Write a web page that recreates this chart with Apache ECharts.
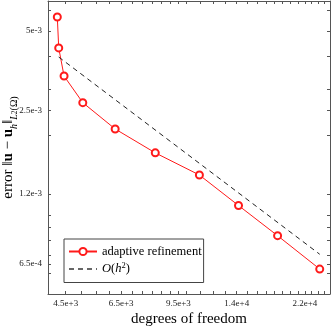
<!DOCTYPE html>
<html>
<head>
<meta charset="utf-8">
<script src="https://cdn.jsdelivr.net/npm/echarts@6/dist/echarts.min.js"></script>
<style>
    html, body { margin: 0; padding: 0; background: #fff; }
    #chart { width: 332px; height: 326px; }
</style>
</head>
<body>
<div id="chart"></div>
<script>

// Data
// ------------------------------

var dof = [4255, 4295, 4450, 5039, 6247, 8153, 10927, 14166, 18361, 24287];
var errAdaptive = [5.65e-3, 4.31e-3, 3.37e-3, 2.67e-3, 2.12e-3, 1.72e-3, 1.417e-3, 1.085e-3, 8.33e-4, 6.22e-4];

var refDof = [4295, 24287];
var refErr = [3.98e-3, 7.08e-4];

var xTickVals = [4500, 6500, 9500, 14000, 22000];
var xTickLabels = ['4.5e+3', '6.5e+3', '9.5e+3', '1.4e+4', '2.2e+4'];
var xMinorTicks = [5000, 5500, 6000, 7000, 7500, 8000, 8500, 9000, 10000, 11000, 12000, 13000,
    15000, 16000, 17000, 18000, 19000, 20000, 21000, 23000, 24000, 25000];

var yTickVals = [5e-3, 2.5e-3, 1.2e-3, 6.5e-4];
var yTickLabels = ['5e-3', '2.5e-3', '1.2e-3', '6.5e-4'];
var yMinorTicks = [6e-3, 4e-3, 3e-3, 2e-3, 1e-3, 9e-4, 8e-4, 7e-4, 6e-4];

var xRange = [4000, 26000];
var yRange = [5e-4, 6.5e-3];


// Helpers
// ------------------------------

var lg = function(v) { return Math.log10(v); };

var pickLabel = function(vals, labels) {
    return function(v) {
        for (var i = 0; i < vals.length; i++) {
            if (Math.abs(lg(vals[i]) - v) < 1e-6) return labels[i];
        }
        return '';
    };
};

var serif = 'Liberation Serif';
var axisColor = '#555';
var red = '#ff1a1a';


// Axes
// ------------------------------

var makeX = function(top) {
    return {
        type: 'value',
        position: top ? 'top' : 'bottom',
        min: lg(xRange[0]),
        max: lg(xRange[1]),
        name: top ? '' : 'degrees of freedom',
        nameLocation: 'middle',
        nameGap: 18,
        nameMoveOverlap: false,
        nameTextStyle: { fontFamily: serif, fontSize: 15, color: '#000' },
        axisLine: { show: true, lineStyle: { color: axisColor, width: 1 } },
        axisTick: {
            show: true,
            inside: true,
            length: 3,
            customValues: xTickVals.concat(xMinorTicks).map(lg),
            lineStyle: { color: axisColor }
        },
        axisLabel: {
            show: !top,
            margin: 5,
            customValues: xTickVals.map(lg),
            formatter: pickLabel(xTickVals, xTickLabels),
            fontFamily: serif,
            fontSize: 9,
            color: '#222'
        },
        splitLine: { show: false }
    };
};

var makeY = function(right) {
    return {
        type: 'value',
        position: right ? 'right' : 'left',
        min: lg(yRange[0]),
        max: lg(yRange[1]),
        name: right ? '' : '{n|error }{n|‖}{b|u}{n| − }{b|u}{s|h}{n|‖}{s|L}{ss|2}{sr|(Ω)}',
        nameLocation: 'middle',
        nameRotate: 90,
        nameGap: 29,
        nameMoveOverlap: false,
        nameTextStyle: {
            fontFamily: serif,
            fontSize: 15,
            color: '#000',
            rich: {
                n: { fontFamily: serif, fontSize: 15, lineHeight: 21 },
                b: { fontFamily: serif, fontSize: 15, fontWeight: 'bold', lineHeight: 21 },
                s: { fontFamily: serif, fontSize: 10, fontStyle: 'italic', verticalAlign: 'bottom', lineHeight: 14 },
                sr: { fontFamily: serif, fontSize: 10, verticalAlign: 'bottom', lineHeight: 14 },
                ss: { fontFamily: serif, fontSize: 7.5, verticalAlign: 'bottom', lineHeight: 20 }
            }
        },
        axisLine: { show: true, lineStyle: { color: axisColor, width: 1 } },
        axisTick: {
            show: true,
            inside: true,
            length: 3,
            customValues: yTickVals.concat(yMinorTicks).map(lg),
            lineStyle: { color: axisColor }
        },
        axisLabel: {
            show: !right,
            margin: 6,
            customValues: yTickVals.map(lg),
            formatter: pickLabel(yTickVals, yTickLabels),
            fontFamily: serif,
            fontSize: 9,
            color: '#222'
        },
        splitLine: { show: false }
    };
};


// Chart
// ------------------------------

var chart = echarts.init(document.getElementById('chart'), null, { renderer: 'canvas' });

var options = {
    animation: false,
    backgroundColor: '#fff',
    grid: { left: 48, right: 2, top: 1, bottom: 32, outerBoundsMode: 'none' },
    xAxis: [makeX(false), makeX(true)],
    yAxis: [makeY(false), makeY(true)],
    legend: {
        left: 64,
        top: 239,
        orient: 'vertical',
        backgroundColor: '#fff',
        borderColor: '#444',
        borderWidth: 1,
        borderRadius: 0,
        padding: [6, 2, 7, 4],
        itemWidth: 28,
        itemHeight: 9,
        itemGap: 3,
        textStyle: {
            fontFamily: serif,
            fontSize: 12.5,
            color: '#000',
            rich: {
                n: { fontFamily: serif, fontSize: 12.5, lineHeight: 16 },
                i: { fontFamily: serif, fontSize: 12.5, fontStyle: 'italic', lineHeight: 16 },
                sup: { fontFamily: serif, fontSize: 8.5, verticalAlign: 'top', lineHeight: 9 }
            }
        },
        formatter: function(name) {
            if (name === 'O(h^2)') return '{i|O}{n|(}{i|h}{sup|2}{n|)}';
            return name;
        },
        data: [
            { name: 'adaptive refinement' },
            { name: 'O(h^2)', itemStyle: { color: 'rgba(0,0,0,0)', borderWidth: 0 }, lineStyle: { color: '#666' } }
        ]
    },
    series: [
        {
            name: 'adaptive refinement',
            type: 'line',
            data: dof.map(function(d, i) { return [lg(d), lg(errAdaptive[i])]; }),
            symbol: 'emptyCircle',
            symbolSize: 7,
            color: red,
            lineStyle: { width: 1, color: red },
            itemStyle: { color: red, borderWidth: 1 }
        },
        {
            name: 'O(h^2)',
            type: 'line',
            data: refDof.map(function(d, i) { return [lg(d), lg(refErr[i])]; }),
            symbol: 'none',
            color: '#222',
            lineStyle: { width: 1, type: [5, 4], color: '#222' }
        }
    ]
};

chart.setOption(options);

</script>
</body>
</html>
